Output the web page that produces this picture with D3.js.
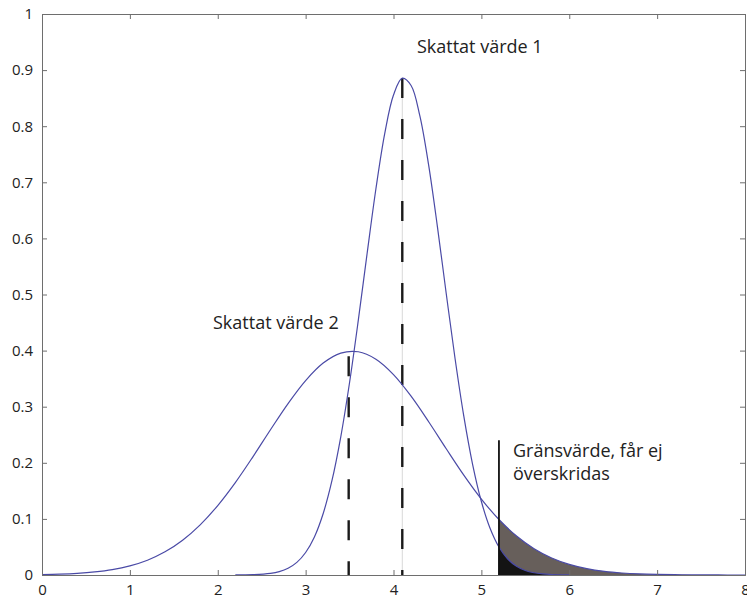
<!DOCTYPE html>
<html><head><meta charset="utf-8">
<script src="https://cdn.jsdelivr.net/npm/d3@7"></script>
<style>body{margin:0;background:#fff}text{font-family:"Open Sans",sans-serif;fill:#222}</style>
</head><body><svg id="c" width="747" height="599"></svg>
<script>
// Curve 2 ("Skattat värde 2"), x step 0.2 from 0 to 8
const x2 = [0,0.2,0.4,0.6,0.8,1.0,1.2,1.4,1.6,1.8,2.0,2.2,2.4,2.6,2.8,3.0,3.2,3.4,3.6,3.8,4.0,4.2,4.4,4.6,4.8,5.0,5.2,5.4,5.6,5.8,6.0,6.2,6.4,6.6,6.8,7.0,7.2,7.4,7.6,7.8,8.0];
const y2 = [0.0008,0.0016,0.0030,0.0055,0.0096,0.0163,0.0264,0.0413,0.0620,0.0894,0.1238,0.1647,0.2107,0.2589,0.3056,0.3466,0.3778,0.3956,0.3979,0.3846,0.3572,0.3187,0.2732,0.2251,0.1781,0.1354,0.0989,0.0694,0.0468,0.0303,0.0189,0.0113,0.0065,0.0036,0.0019,0.0010,0.0005,0.0002,0.0001,0.00004,0.00002];
// Curve 1 ("Skattat värde 1")
const x1 = [2.2,2.4,2.6,2.7,2.8,2.9,3.0,3.1,3.2,3.3,3.4,3.5,3.6,3.7,3.8,3.9,4.0,4.1,4.2,4.3,4.4,4.5,4.6,4.7,4.8,4.9,5.0,5.1,5.2,5.3,5.4,5.5,5.6,5.7,5.8,6.0];
const y1 = [0.0001,0.0006,0.0030,0.0061,0.0120,0.0225,0.0401,0.0679,0.1097,0.1685,0.2464,0.3431,0.4547,0.5735,0.6885,0.7867,0.8556,0.8856,0.8726,0.8183,0.7305,0.6206,0.5018,0.3863,0.2831,0.1974,0.1310,0.0828,0.0498,0.0285,0.0155,0.0080,0.0040,0.0019,0.0008,0.0001];
const xTicks = [0,1,2,3,4,5,6,7,8];
const yTicks = [0,0.1,0.2,0.3,0.4,0.5,0.6,0.7,0.8,0.9,1];
const yTickLabels = ["0","0.1","0.2","0.3","0.4","0.5","0.6","0.7","0.8","0.9","1"];
// Markers
const mean1 = 4.1, peak1 = 0.886;
const mean2 = 3.49, peak2 = 0.39;
const limitX = 5.2, limitTop = 0.24;
const gray2End = 7.6, black1End = 5.9;
const labels = [
  {t:"Skattat värde 1", x:4.267, y:0.9305},
  {t:"Skattat värde 2", x:1.946, y:0.4385},
  {t:"Gränsvärde, får ej", x:5.36, y:0.2103},
  {t:"överskridas", x:5.36, y:0.1693}
];

const svg = d3.select("#c");
const L=42, R=745, T=14, B=575;
const x = d3.scaleLinear().domain([0,8]).range([L,R]);
const y = d3.scaleLinear().domain([0,1]).range([B,T]);

const pts2 = x2.map((v,i)=>[v,y2[i]]);
const pts1 = x1.map((v,i)=>[v,y1[i]]);
const line = d3.line().x(d=>x(d[0])).y(d=>y(d[1])).curve(d3.curveCatmullRom);
const area = d3.area().x(d=>x(d[0])).y0(y(0)).y1(d=>y(d[1])).curve(d3.curveCatmullRom);

function interp(pts, xv){
  for(let i=0;i<pts.length-1;i++){
    if(xv>=pts[i][0] && xv<=pts[i+1][0]){
      const t=(xv-pts[i][0])/(pts[i+1][0]-pts[i][0]);
      return pts[i][1]+t*(pts[i+1][1]-pts[i][1]);
    }
  }
  return 0;
}
function clip(pts,a,b){
  const r=[[a,interp(pts,a)]];
  pts.forEach(p=>{if(p[0]>a&&p[0]<b) r.push(p);});
  r.push([b,interp(pts,b)]);
  return r;
}

// shaded regions
svg.append("path").attr("d",area(clip(pts2,limitX,gray2End))).attr("fill","#675f5b");
svg.append("path").attr("d",area(clip(pts1,limitX,black1End))).attr("fill","#141414");

// light guide line at mean1
svg.append("line").attr("x1",x(mean1)).attr("x2",x(mean1)).attr("y1",y(0)).attr("y2",y(peak1))
  .attr("stroke","#d8d8d8").attr("stroke-width",1);

// dashed mean lines
[[mean1,peak1],[mean2,peak2]].forEach(([m,p])=>{
  svg.append("line").attr("x1",x(m)).attr("x2",x(m)).attr("y1",y(p)).attr("y2",y(0))
    .attr("stroke","#1a1a1a").attr("stroke-width",2.4).attr("stroke-dasharray","20,21");
});

// curves
svg.append("path").attr("d",line(pts2)).attr("fill","none").attr("stroke","#4a4aa6").attr("stroke-width",1.2);
svg.append("path").attr("d",line(pts1)).attr("fill","none").attr("stroke","#4a4aa6").attr("stroke-width",1.2);

// limit line
svg.append("line").attr("x1",x(limitX)).attr("x2",x(limitX)).attr("y1",y(0)).attr("y2",y(limitTop))
  .attr("stroke","#111").attr("stroke-width",1.8);

// axes box
const ac="#6e6e6e";
svg.append("g").attr("transform",`translate(0,${B})`)
  .call(d3.axisBottom(x).tickValues(xTicks).tickSize(-5).tickPadding(9).tickFormat(d3.format("d")))
  .call(g=>{g.select(".domain").attr("stroke",ac);g.selectAll(".tick line").attr("stroke",ac);g.selectAll("text").attr("font-size",15).attr("fill","#222").attr("font-family","Open Sans");});
svg.append("g").attr("transform",`translate(0,${T})`)
  .call(d3.axisTop(x).tickValues(xTicks).tickSize(-5).tickFormat(""))
  .call(g=>{g.select(".domain").attr("stroke",ac);g.selectAll(".tick line").attr("stroke",ac);});
svg.append("g").attr("transform",`translate(${L},0)`)
  .call(d3.axisLeft(y).tickValues(yTicks).tickSize(-5).tickPadding(9).tickFormat((d,i)=>yTickLabels[i]))
  .call(g=>{g.select(".domain").attr("stroke",ac);g.selectAll(".tick line").attr("stroke",ac);g.selectAll("text").attr("font-size",15).attr("fill","#222").attr("font-family","Open Sans");});
svg.append("g").attr("transform",`translate(${R},0)`)
  .call(d3.axisRight(y).tickValues(yTicks).tickSize(-5).tickFormat(""))
  .call(g=>{g.select(".domain").attr("stroke",ac);g.selectAll(".tick line").attr("stroke",ac);});

// labels
labels.forEach(l=>{
  svg.append("text").attr("x",x(l.x)).attr("y",y(l.y)).attr("font-size",18).text(l.t);
});
</script></body></html>
